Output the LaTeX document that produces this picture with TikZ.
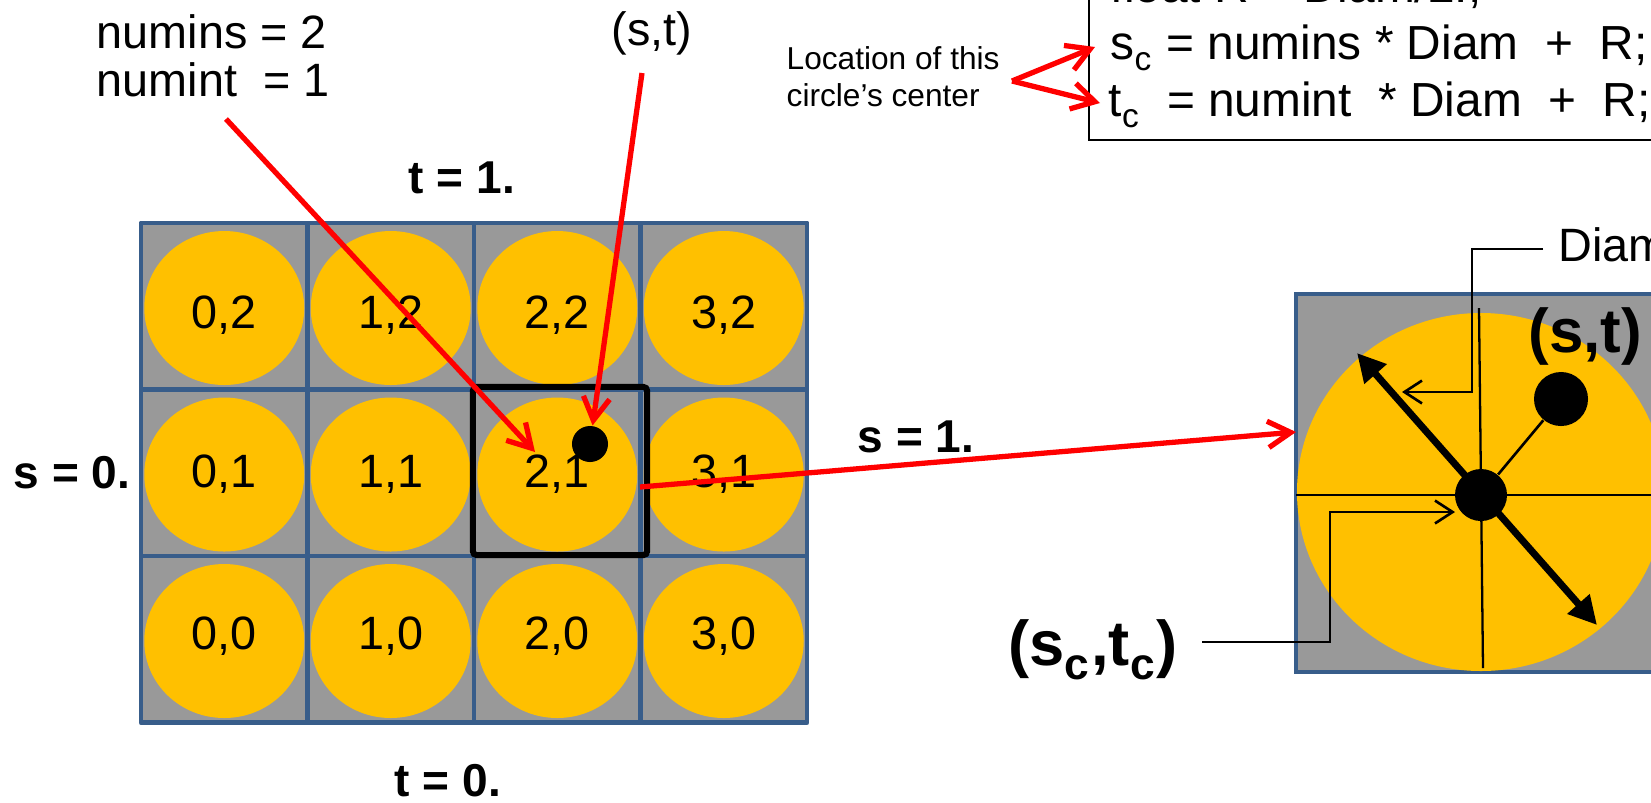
\documentclass[tikz,border=0pt]{standalone}
\usepackage{fontspec}
\setmainfont{Liberation Sans}
\usetikzlibrary{arrows.meta}
\definecolor{gridblue}{RGB}{56,93,138}
\definecolor{cellgray}{RGB}{153,153,153}
\definecolor{gold}{RGB}{255,192,0}
\newcommand\lsub[1]{\raisebox{-0.09em}{\textsubscript{#1}}}
\begin{document}
\begin{tikzpicture}[x=0.01cm,y=-0.01cm,
  txt/.style={inner sep=0pt,font=\fontsize{13.3pt}{16pt}\selectfont},
  codetxt/.style={inner sep=0pt,anchor=base west,font=\fontsize{13.6pt}{16pt}\selectfont},
  btxt/.style={inner sep=0pt,font=\fontsize{13.1pt}{16pt}\selectfont\bfseries},
  bigb/.style={inner sep=0pt,font=\fontsize{18pt}{21pt}\selectfont\bfseries},
  smalltxt/.style={inner sep=0pt,font=\fontsize{9pt}{11pt}\selectfont},
  cellnum/.style={inner sep=0pt,anchor=base,font=\fontsize{13.3pt}{16pt}\selectfont},
  redarr/.style={draw=red,line width=1.5pt,-{Straight Barb[length=6.5pt,width=7.5pt]}},
  blkarr/.style={draw=black,line width=0.75pt,-{Straight Barb[length=5pt,width=6.5pt]}},
  dot/.style={circle,fill=black,inner sep=0pt},
  gridline/.style={draw=gridblue,line width=1.4pt}
]
\useasboundingbox (0,0) rectangle (1651,802);
\clip (0,0) rectangle (1651,802);

% ---------- grid ----------
\foreach \i in {0,1,2,3}{
  \foreach \j/\off in {0/93,1/98,2/105}{
    \pgfmathsetmacro\xa{141+166.5*\i}
    \pgfmathsetmacro\ya{223+166.5*(2-\j)}
    \fill[cellgray] (\xa,\ya) rectangle ++(166.5,166.5);
    \fill[gold] (\xa+83.25,\ya+85) ellipse [x radius=80, y radius=77];
    \node[cellnum] (c\i\j) at (\xa+83.25,\ya+\off) {\i,\j};
  }
}
\foreach \i in {0,1,2,3}{
  \foreach \j in {0,1,2}{
    \pgfmathsetmacro\xa{141+166.5*\i}
    \pgfmathsetmacro\ya{223+166.5*\j}
    \draw[gridline,line join=round] (\xa,\ya) rectangle ++(166.5,166.5);
  }
}
\node[draw=black,line width=1.7pt,rounded corners=1pt,inner sep=0pt,
      minimum width=1.74cm,minimum height=1.68cm] (hl) at (560,471) {};
\node[dot,minimum size=0.36cm] (gdot) at (590,444) {};

% ---------- labels left ----------
\node[txt,anchor=base west] (numins) at (96,48) {numins = 2};
\node[txt,anchor=base west] (numint) at (96,96) {numint\ \ = 1};
\node[txt,anchor=base] (sttop) at (652,45) {(s,t)};
\node[btxt,anchor=base] (t1) at (462,193) {t = 1.};
\node[btxt,anchor=base west] (s0) at (13,488) {s = 0.};
\node[btxt,anchor=base west] (s1) at (857,452) {s = 1.};
\node[btxt,anchor=base] (t0) at (448,796) {t = 0.};

% ---------- code box ----------
\draw[line width=0.7pt] (1089,-30) rectangle (1720,140);
\node[codetxt] (code0) at (1110,2) {float R = Diam/2.;};
\node[codetxt] (code1) at (1110,59) {s\lsub{c} = numins * Diam\ \ +\ \ R;};
\node[codetxt] (code2) at (1108,116) {t\lsub{c}\ \ = numint\ \ * Diam\ \ +\ \ R;};
\node[smalltxt,anchor=base west] (loc1) at (786,69) {Location of this};
\node[smalltxt,anchor=base west] (loc2) at (786,106) {circle’s center};

% ---------- big square ----------
\fill[cellgray] (1296,294) rectangle (1720,672);
\draw[gridline] (1296,294) rectangle (1720,672);
\fill[gold] (1481,492) ellipse [x radius=184, y radius=179];
\coordinate (vT) at (1479,308);
\coordinate (vB) at (1483,668);
\coordinate (hL) at (1296,495);
\coordinate (hR) at (1720,495);
\draw[line width=0.65pt] (vT) -- (vB);
\draw[line width=0.65pt] (hL) -- (hR);
\node[dot,minimum size=0.52cm] (cdot) at (1481,495) {};
\node[dot,minimum size=0.54cm] (stdot) at (1561,399) {};
\draw[line width=0.75pt] (cdot) -- (stdot);
\coordinate (dA1) at (1357,353);
\coordinate (dA2) at (1597,625);
\draw[line width=2pt,{Triangle[length=8pt,width=8pt]}-{Triangle[length=8pt,width=8pt]}] (dA1) -- (dA2);
\node[bigb,anchor=base west,font=\fontsize{17.6pt}{21pt}\selectfont\bfseries] (stbig) at (1528,352) {(s,t)};
\node[bigb,anchor=base west] (sctc) at (1008,665) {(s\lsub{c},t\lsub{c})};
\node[txt,anchor=base west] (diam) at (1558,261) {Diam};

% Diam elbow
\coordinate (dm0) at (1543,249);
\coordinate (dm1) at (1472,249);
\coordinate (dm2) at (1472,392);
\coordinate (dm3) at (1402,392);
\draw[blkarr] (dm0) -- (dm1) -- (dm2) -- (dm3);
% (sc,tc) elbow
\coordinate (sc0) at (1202,642);
\coordinate (sc1) at (1330,642);
\coordinate (sc2) at (1330,512);
\coordinate (sc3) at (1455,512);
\draw[blkarr] (sc0) -- (sc1) -- (sc2) -- (sc3);

% ---------- red arrows ----------
\coordinate (nA) at (226,119);
\coordinate (nB) at (535,452);
\draw[redarr] (nA) -- (nB);
\coordinate (stA) at (642,73);
\draw[redarr] (stA) -- (gdot);
\coordinate (s1A) at (640,487);
\coordinate (s1B) at (1296,432);
\draw[redarr] (s1A) -- (s1B);
\coordinate (locA) at (1012,81);
\coordinate (locS) at (1095,47);
\coordinate (locT) at (1100,103);
\draw[redarr] (locA) -- (locS);
\draw[redarr] (locA) -- (locT);
\end{tikzpicture}
\end{document}
